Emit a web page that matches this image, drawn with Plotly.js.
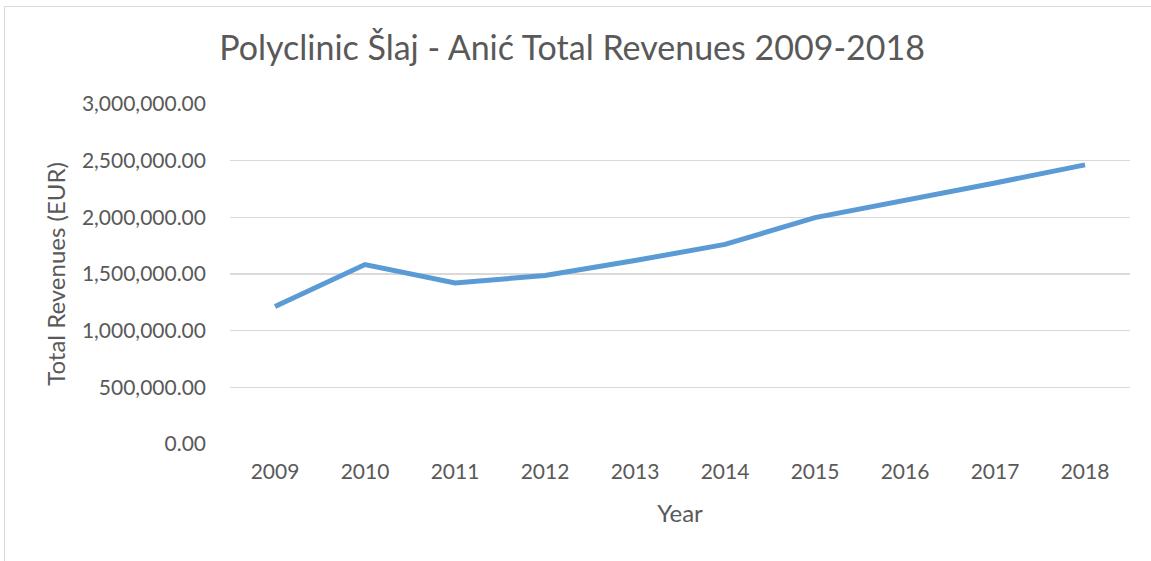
<!DOCTYPE html>
<html>
<head>
<meta charset="utf-8">
<script src="https://cdn.plot.ly/plotly-3.0.1.min.js"></script>
<style>
html,body{margin:0;padding:0;background:#fff;}
#frame{position:absolute;left:4px;top:6px;width:1200px;height:600px;border:1px solid #d9d9d9;box-sizing:border-box;}
#chart{position:absolute;left:0;top:0;width:1151px;height:561px;}
</style>
</head>
<body>
<div id="frame"></div>
<div id="chart"></div>
<script>
const years = ['2009','2010','2011','2012','2013','2014','2015','2016','2017','2018'];
const revenues = [1213000, 1583000, 1421000, 1486000, 1619000, 1761000, 1998000, 2146000, 2303000, 2463000];
const yTickValues = [0, 500000, 1000000, 1500000, 2000000, 2500000, 3000000];
const yTickLabels = ['0.00','500,000.00','1,000,000.00','1,500,000.00','2,000,000.00','2,500,000.00','3,000,000.00'];

const FONT = 'Lato, "Open Sans", sans-serif';
const trace = {
  x: years, y: revenues, type: 'scatter', mode: 'lines',
  line: {color: '#5b9bd5', width: 5, shape: 'linear'},
  hoverinfo: 'skip'
};
const layout = {
  width: 1151, height: 561,
  paper_bgcolor: 'rgba(0,0,0,0)', plot_bgcolor: 'rgba(0,0,0,0)',
  margin: {l: 230, r: 21, t: 104, b: 117},
  showlegend: false,
  font: {family: FONT, color: '#595959'},
  title: {text: 'Polyclinic Šlaj - Anić Total Revenues 2009-2018', x: 0.497, xanchor: 'center', y: 0.915, yanchor: 'middle',
          font: {family: FONT, size: 34, color: '#595959'}},
  xaxis: {
    type: 'category', range: [-0.5, 9.5], showgrid: false, zeroline: false, showline: false,
    ticks: '', tickfont: {size: 21, color: '#595959'}, ticklabelstandoff: 13,
    title: {text: 'Year', font: {size: 24, color: '#595959'}, standoff: 23}
  },
  yaxis: {
    range: [0, 3000000], tickvals: yTickValues, ticktext: yTickLabels,
    showgrid: true, gridcolor: '#d9d9d9', gridwidth: 1.3, zeroline: false, showline: false,
    ticks: '', tickfont: {size: 21, color: '#595959'}, ticklabelstandoff: 23,
    title: {text: 'Total Revenues (EUR)', font: {size: 24, color: '#595959'}, standoff: 9}
  }
};
Plotly.newPlot('chart', [trace], layout, {displayModeBar: false, staticPlot: true});
</script>
</body>
</html>
